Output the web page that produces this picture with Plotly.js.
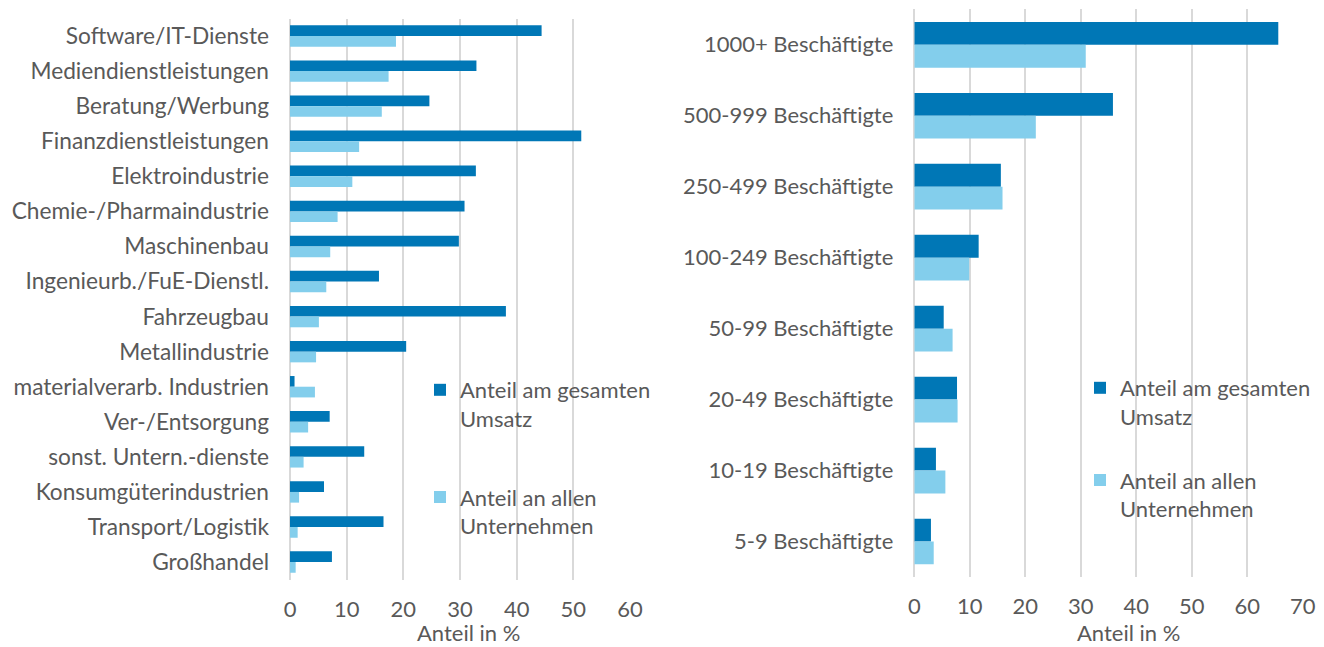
<!DOCTYPE html>
<html>
<head>
<meta charset="utf-8">
<script src="https://cdn.plot.ly/plotly-3.0.1.min.js"></script>
<style>html,body{margin:0;padding:0;background:#fff;}#chart{width:1324px;height:647px;}</style>
</head>
<body>
<div id="chart"></div>
<script>
// ---- data ----
const branchen = ["Software/IT-Dienste","Mediendienstleistungen","Beratung/Werbung","Finanzdienstleistungen","Elektroindustrie","Chemie-/Pharmaindustrie","Maschinenbau","Ingenieurb./FuE-Dienstl.","Fahrzeugbau","Metallindustrie","materialverarb. Industrien","Ver-/Entsorgung","sonst. Untern.-dienste","Konsumgüterindustrien","Transport/Logistik","Großhandel"];
const branchenUmsatz = [44.4, 32.9, 24.6, 51.4, 32.8, 30.8, 29.8, 15.7, 38.1, 20.5, 0.8, 7.0, 13.1, 6.0, 16.5, 7.4];
const branchenUnternehmen = [18.7, 17.4, 16.2, 12.2, 11.0, 8.4, 7.1, 6.4, 5.1, 4.6, 4.4, 3.2, 2.4, 1.6, 1.35, 1.0];

const groessen = ["1000+ Beschäftigte","500-999 Beschäftigte","250-499 Beschäftigte","100-249 Beschäftigte","50-99 Beschäftigte","20-49 Beschäftigte","10-19 Beschäftigte","5-9 Beschäftigte"];
const groessenUmsatz = [65.6, 35.8, 15.6, 11.6, 5.3, 7.7, 3.9, 3.0];
const groessenUnternehmen = [30.9, 21.9, 15.9, 9.9, 6.9, 7.8, 5.6, 3.5];

const xTicksLeft = [0, 10, 20, 30, 40, 50, 60];
const xTicksRight = [0, 10, 20, 30, 40, 50, 60, 70];

const seriesNames = ["Anteil am gesamten<br>Umsatz", "Anteil an allen<br>Unternehmen"];
const axisTitle = "Anteil in %";

// ---- style ----
const DARK = "#0077B6";
const LIGHT = "#83CEEC";
const TXT = "#595959";
const GRID = "#D9D9D9";
const FONT = "Lato, Roboto, sans-serif";
const FS = 22;
const FSY = 22.7;
const W = 1324, H = 647;
const px = v => v / W;
const py = v => 1 - v / H;

const wL = 0.305, wR = 0.322;

const traces = [
  {type:"bar", orientation:"h", y:branchen, x:branchenUmsatz, name:seriesNames[0],
   marker:{color:DARK}, width:wL, offset:-wL, xaxis:"x", yaxis:"y", legend:"legend", legendgroup:"a", hoverinfo:"x+y"},
  {type:"bar", orientation:"h", y:branchen, x:branchenUnternehmen, name:seriesNames[1],
   marker:{color:LIGHT}, width:wL, offset:0, xaxis:"x", yaxis:"y", legend:"legend", legendgroup:"b", hoverinfo:"x+y"},
  {type:"bar", orientation:"h", y:groessen, x:groessenUmsatz, name:seriesNames[0],
   marker:{color:DARK}, width:wR, offset:-wR, xaxis:"x2", yaxis:"y2", legend:"legend2", legendgroup:"c", hoverinfo:"x+y"},
  {type:"bar", orientation:"h", y:groessen, x:groessenUnternehmen, name:seriesNames[1],
   marker:{color:LIGHT}, width:wR, offset:0, xaxis:"x2", yaxis:"y2", legend:"legend2", legendgroup:"d", hoverinfo:"x+y"}
];

const xaxisBase = {
  showgrid:true, gridcolor:GRID, gridwidth:2, zeroline:true, zerolinecolor:GRID, zerolinewidth:2,
  showline:false, ticks:"", tickfont:{family:FONT, size:FS, color:TXT}, ticklabelstandoff:14,
  tickmode:"array", fixedrange:true
};
const yaxisBase = {
  type:"category", autorange:"reversed", showgrid:false, zeroline:false, showline:false, ticks:"",
  tickfont:{family:FONT, size:FSY, color:TXT}, ticklabelstandoff:20, fixedrange:true
};

const layout = {
  width:W, height:H,
  margin:{l:0, r:0, t:0, b:0},
  paper_bgcolor:"#fff", plot_bgcolor:"rgba(0,0,0,0)",
  barmode:"overlay",
  font:{family:FONT, size:FS, color:TXT},
  xaxis:Object.assign({}, xaxisBase, {domain:[px(290), px(630)], range:[0, 60], tickvals:xTicksLeft, ticktext:xTicksLeft.map(String), anchor:"y"}),
  yaxis:Object.assign({}, yaxisBase, {domain:[py(579.6), py(18.5)], anchor:"x"}),
  xaxis2:Object.assign({}, xaxisBase, {domain:[px(914.3), px(1302.7)], range:[0, 70], tickvals:xTicksRight, ticktext:xTicksRight.map(String), anchor:"y2"}),
  yaxis2:Object.assign({}, yaxisBase, {domain:[py(577), py(9.3)], anchor:"x2", tickfont:{family:FONT, size:FS, color:TXT}}),
  legend:{x:px(420), y:py(369), xanchor:"left", yanchor:"top", bgcolor:"rgba(0,0,0,0)",
          font:{family:FONT, size:FS, color:TXT}, traceorder:"grouped", tracegroupgap:47, valign:"top"},
  legend2:{x:px(1080), y:py(367), xanchor:"left", yanchor:"top", bgcolor:"rgba(0,0,0,0)",
          font:{family:FONT, size:FS, color:TXT}, traceorder:"grouped", tracegroupgap:32, valign:"top"},
  annotations:[
    {text:axisTitle, xref:"paper", yref:"paper", x:px(468), y:py(632), xanchor:"center", yanchor:"middle", showarrow:false, font:{family:FONT, size:FS, color:TXT}},
    {text:axisTitle, xref:"paper", yref:"paper", x:px(1128), y:py(632), xanchor:"center", yanchor:"middle", showarrow:false, font:{family:FONT, size:FS, color:TXT}}
  ],
  showlegend:true
};

Plotly.newPlot("chart", traces, layout, {displayModeBar:false, responsive:false});
</script>
</body>
</html>
